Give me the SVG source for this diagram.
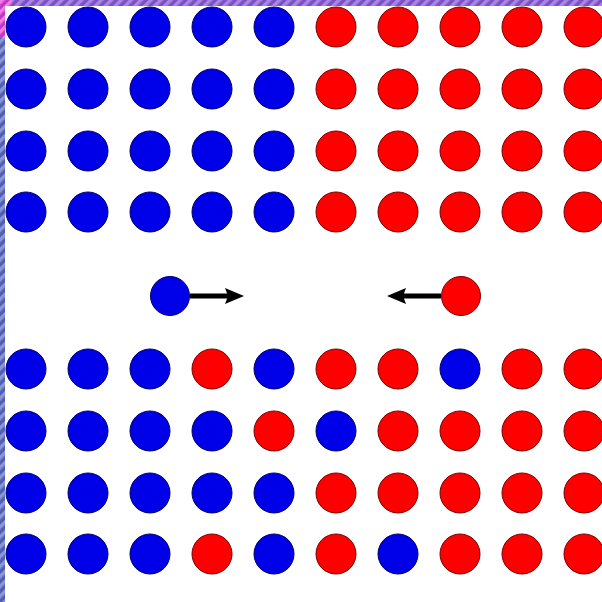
<svg xmlns="http://www.w3.org/2000/svg" width="602" height="602" viewBox="0 0 602 602">
<defs>
<pattern id="pTop" width="7" height="7" patternUnits="userSpaceOnUse" patternTransform="rotate(45)">
<rect width="7" height="7" fill="#7a50c4"/><rect width="3.5" height="7" fill="#a886e6"/>
</pattern>
<pattern id="pLeft" width="7" height="7" patternUnits="userSpaceOnUse" patternTransform="rotate(45)">
<rect width="7" height="7" fill="#4f5eb0"/><rect width="3.5" height="7" fill="#8a96d8"/>
</pattern>
<pattern id="pPink" width="7" height="7" patternUnits="userSpaceOnUse" patternTransform="rotate(45)">
<rect width="7" height="7" fill="#c038c0"/><rect width="3.5" height="7" fill="#f27ae8"/>
</pattern>
</defs>
<style>
.b{fill:#0000e8;stroke:#00006a;stroke-width:1}
.r{fill:#ff0000;stroke:#7a0000;stroke-width:1}
.shaft{stroke:#000;stroke-width:5;fill:none}
.head{fill:#000}
</style>
<rect width="602" height="602" fill="#ffffff"/>
<rect x="0" y="0" width="602" height="6" fill="url(#pTop)"/>
<rect x="0" y="0" width="5" height="602" fill="url(#pLeft)"/>
<rect x="0" y="0" width="5" height="38" fill="url(#pPink)"/>
<rect x="0" y="0" width="12" height="6" fill="url(#pPink)"/>
<g id="top-grid">
<g id="row1">
<circle class="b" cx="26" cy="27" r="20"/><circle class="b" cx="88" cy="27" r="20"/><circle class="b" cx="150" cy="27" r="20"/><circle class="b" cx="212" cy="27" r="20"/><circle class="b" cx="274" cy="27" r="20"/>
<circle class="r" cx="336" cy="27" r="20"/><circle class="r" cx="398" cy="27" r="20"/><circle class="r" cx="460" cy="27" r="20"/><circle class="r" cx="522" cy="27" r="20"/><circle class="r" cx="584" cy="27" r="20"/>
</g>
<g id="row2">
<circle class="b" cx="26" cy="89" r="20"/><circle class="b" cx="88" cy="89" r="20"/><circle class="b" cx="150" cy="89" r="20"/><circle class="b" cx="212" cy="89" r="20"/><circle class="b" cx="274" cy="89" r="20"/>
<circle class="r" cx="336" cy="89" r="20"/><circle class="r" cx="398" cy="89" r="20"/><circle class="r" cx="460" cy="89" r="20"/><circle class="r" cx="522" cy="89" r="20"/><circle class="r" cx="584" cy="89" r="20"/>
</g>
<g id="row3">
<circle class="b" cx="26" cy="151" r="20"/><circle class="b" cx="88" cy="151" r="20"/><circle class="b" cx="150" cy="151" r="20"/><circle class="b" cx="212" cy="151" r="20"/><circle class="b" cx="274" cy="151" r="20"/>
<circle class="r" cx="336" cy="151" r="20"/><circle class="r" cx="398" cy="151" r="20"/><circle class="r" cx="460" cy="151" r="20"/><circle class="r" cx="522" cy="151" r="20"/><circle class="r" cx="584" cy="151" r="20"/>
</g>
<g id="row4">
<circle class="b" cx="26" cy="212" r="20"/><circle class="b" cx="88" cy="212" r="20"/><circle class="b" cx="150" cy="212" r="20"/><circle class="b" cx="212" cy="212" r="20"/><circle class="b" cx="274" cy="212" r="20"/>
<circle class="r" cx="336" cy="212" r="20"/><circle class="r" cx="398" cy="212" r="20"/><circle class="r" cx="460" cy="212" r="20"/><circle class="r" cx="522" cy="212" r="20"/><circle class="r" cx="584" cy="212" r="20"/>
</g>
</g>
<g id="connectors">
<line class="shaft" x1="190" y1="296" x2="230" y2="296"/>
<polygon class="head" points="244,296 225,288 228,296 225,304"/>
<line class="shaft" x1="441" y1="296" x2="401" y2="296"/>
<polygon class="head" points="387,296 406,288 403,296 406,304"/>
</g>
<g id="mover-blue"><circle class="b" cx="170" cy="296" r="19.5"/></g>
<g id="mover-red"><circle class="r" cx="461" cy="296" r="19.5"/></g>
<g id="bottom-grid">
<g id="row5">
<circle class="b" cx="26" cy="369" r="20"/><circle class="b" cx="88" cy="369" r="20"/><circle class="b" cx="150" cy="369" r="20"/><circle class="r" cx="212" cy="369" r="20"/><circle class="b" cx="274" cy="369" r="20"/>
<circle class="r" cx="336" cy="369" r="20"/><circle class="r" cx="398" cy="369" r="20"/><circle class="b" cx="460" cy="369" r="20"/><circle class="r" cx="522" cy="369" r="20"/><circle class="r" cx="584" cy="369" r="20"/>
</g>
<g id="row6">
<circle class="b" cx="26" cy="431" r="20"/><circle class="b" cx="88" cy="431" r="20"/><circle class="b" cx="150" cy="431" r="20"/><circle class="b" cx="212" cy="431" r="20"/><circle class="r" cx="274" cy="431" r="20"/>
<circle class="b" cx="336" cy="431" r="20"/><circle class="r" cx="398" cy="431" r="20"/><circle class="r" cx="460" cy="431" r="20"/><circle class="r" cx="522" cy="431" r="20"/><circle class="r" cx="584" cy="431" r="20"/>
</g>
<g id="row7">
<circle class="b" cx="26" cy="493" r="20"/><circle class="b" cx="88" cy="493" r="20"/><circle class="b" cx="150" cy="493" r="20"/><circle class="b" cx="212" cy="493" r="20"/><circle class="b" cx="274" cy="493" r="20"/>
<circle class="r" cx="336" cy="493" r="20"/><circle class="r" cx="398" cy="493" r="20"/><circle class="r" cx="460" cy="493" r="20"/><circle class="r" cx="522" cy="493" r="20"/><circle class="r" cx="584" cy="493" r="20"/>
</g>
<g id="row8">
<circle class="b" cx="26" cy="554" r="20"/><circle class="b" cx="88" cy="554" r="20"/><circle class="b" cx="150" cy="554" r="20"/><circle class="r" cx="212" cy="554" r="20"/><circle class="b" cx="274" cy="554" r="20"/>
<circle class="r" cx="336" cy="554" r="20"/><circle class="b" cx="398" cy="554" r="20"/><circle class="r" cx="460" cy="554" r="20"/><circle class="r" cx="522" cy="554" r="20"/><circle class="r" cx="584" cy="554" r="20"/>
</g>
</g>
</svg>
